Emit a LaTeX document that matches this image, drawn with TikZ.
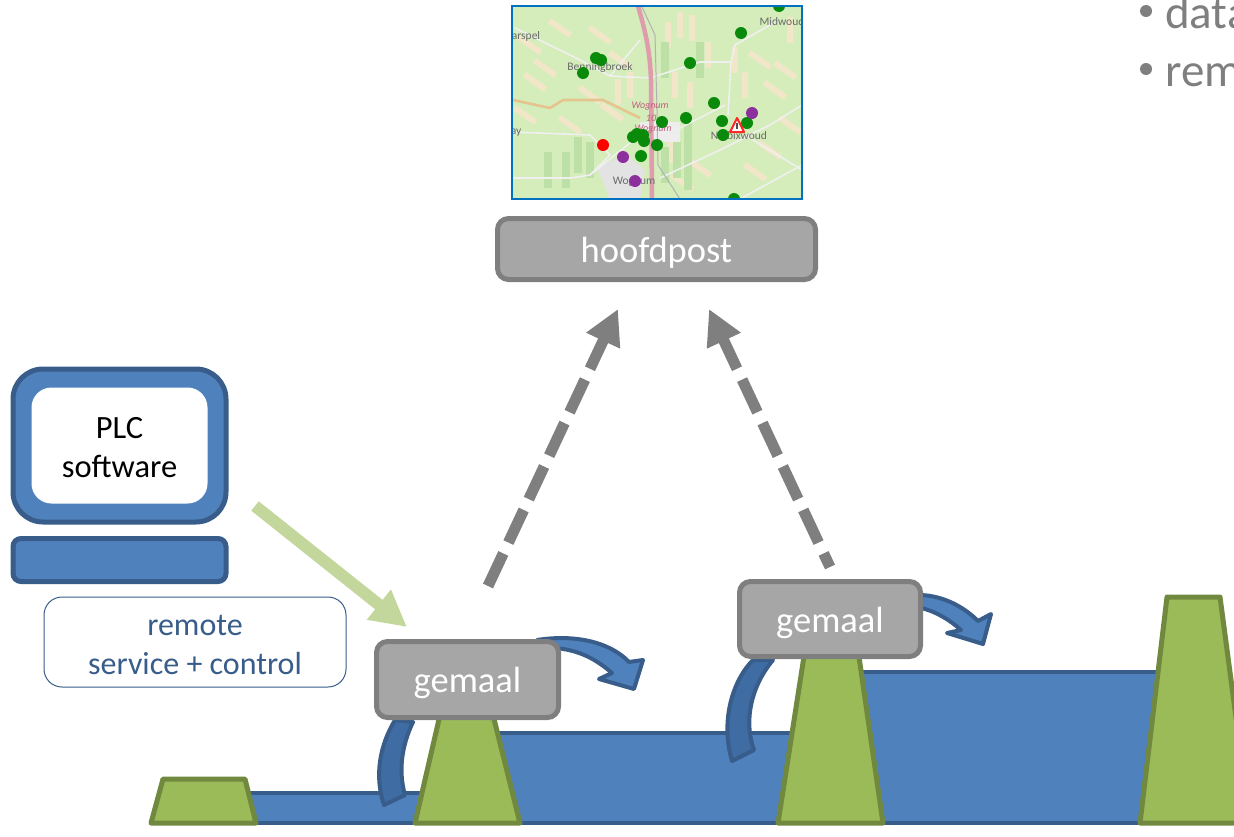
\documentclass[tikz,border=0pt]{standalone}
\usepackage{fontspec}
\setmainfont{Carlito}
\usetikzlibrary{arrows.meta}
\definecolor{wfill}{HTML}{4F81BD}
\definecolor{wline}{HTML}{385D8A}
\definecolor{curvefill}{HTML}{3E6CA3}
\definecolor{dfill}{HTML}{9BBB59}
\definecolor{dline}{HTML}{71893F}
\definecolor{gfill}{HTML}{A6A6A6}
\definecolor{gline}{HTML}{7F7F7F}
\definecolor{servarrow}{HTML}{C3D69B}
\definecolor{mapbg}{HTML}{D4EDBB}
\definecolor{mapfield}{HTML}{F1E6C8}
\definecolor{mapdark}{HTML}{BCE0A6}
\definecolor{mapgreen}{HTML}{0A8A0A}
\definecolor{mappurple}{HTML}{8E2F9E}
\definecolor{maproad}{HTML}{DE9CAC}
\definecolor{maporange}{HTML}{E6C48E}
\definecolor{maptext}{HTML}{6A6A6A}
\definecolor{mapred}{HTML}{C0607A}
\definecolor{mapedge}{HTML}{0070C0}
\tikzset{
  x=1pt,y=-1pt,
  water/.style={fill=wfill,draw=wline,line width=4pt,line join=round},
  dike/.style={fill=dfill,draw=dline,line width=5pt,line join=round},
  stationbox/.style={draw=gline,fill=gfill,line width=5pt,rounded corners=11pt,text=white,font=\fontsize{36.5}{42}\selectfont,inner sep=0pt,text height=26pt,text depth=0pt},
  flow/.style={fill=wfill,draw=wline,line width=4pt,line join=round},
  flowup/.style={fill=curvefill,draw=wline,line width=4pt,line join=round},
  datalink/.style={draw=gline,line width=11pt,dash pattern=on 36pt off 12pt,-{Triangle[length=35pt,width=35pt]}},
  servicelink/.style={draw=servarrow,line width=12pt,-{Triangle[length=36pt,width=36pt]}},
  road/.style={draw=white!88!gray,line width=1.6pt,line join=round},
  town/.style={text=maptext,font=\fontsize{11.5}{13}\selectfont,inner sep=0pt},
  wogn/.style={text=mapred,font=\fontsize{10}{12}\itshape\selectfont,inner sep=0pt},
  pin/.style={circle,minimum size=12pt,inner sep=0pt},
  topic/.style={text=gline,font=\fontsize{47}{52}\selectfont,anchor=base west,inner sep=0pt},
}
\begin{document}
\begin{tikzpicture}
\useasboundingbox (0,0) rectangle (1234,836);
\clip (0,0) rectangle (1234,836);
% map
\begin{scope}
\clip (512,6) rectangle (802,199);
\fill[mapbg] (512,6) rectangle (802,199);
\foreach \x/\y/\a in {530/45/-35,545/68/-35,560/28/-35,590/95/-35,570/125/-35,535/82/-35,612/112/-35,620/60/-35,600/35/-35,525/115/-35,
  680/25/90,692/28/90,668/35/90,708/55/90,675/85/90,690/95/90,630/85/90,618/92/90,745/85/90,
  775/90/-35,785/70/-35,770/150/-35,755/172/-35,700/168/-35,682/182/-35,790/125/-35,760/60/-35,
  670/150/90,735/60/90,790/30/90}{
  \fill[mapfield,rotate around={\a:(\x,\y)}] (\x-13,\y-3) rectangle (\x+13,\y+3);
}
\foreach \x/\y in {665/165,677/160,688/172,590/160,578/155,566/170,548/170,700/60,665/60,688/140}{
  \fill[mapdark] (\x-4,\y-18) rectangle (\x+4,\y+18);
}
\fill[gray!22] (597,168) -- (625,154) -- (645,170) -- (640,199) -- (610,199) -- cycle;
\fill[gray!14] (640,122) rectangle (680,142);
\foreach \p in {
 {(515,28) -- (580,60) -- (610,76) -- (650,78) -- (700,62) -- (731,62) -- (735,45) -- (775,22)},
 {(731,62) -- (728,115)},
 {(512,132) -- (590,135) -- (610,155) -- (590,175) -- (570,178) -- (512,178)},
 {(590,175) -- (640,135) -- (680,128) -- (725,105)},
 {(660,178) -- (720,150) -- (770,125) -- (802,105)},
 {(745,135) -- (802,170)},
 {(740,199) -- (802,165)},
 {(610,76) -- (640,40)}}{
  \draw[road] \p;
}
\draw[gray!60,line width=1pt] (642,7) -- (655,35) -- (657,110) -- (658,165) -- (680,199);
\draw[maproad,line width=4.5pt] (638,6) .. controls (645,30) and (650,50) .. (651,80) -- (652,199);
\draw[maporange,line width=2.6pt,line join=round] (513,100) -- (550,108) -- (563,100) -- (603,100) -- (640,118);
\node[town] (t1) at (526,36) {arspel};
\node[town] (t2) at (600,67) {Benningbroek};
\node[town] (t3) at (782,22) {Midwoud};
\node[town] (t4) at (516,133) {ay};
\node[wogn] (t5) at (650,106) {Wognum};
\node[wogn] (t6) at (651,118) {10};
\node[wogn] (t7) at (653,129) {Wognum};
\node[town] (t8) at (739,136) {Nibbixwoud};
\node[town] (t9) at (634,182) {Wognum};
\foreach \x/\y in {779/6,741/33,596/58,601/60,583/73,690/63,714/103,686/118,722/121,747/123,723/135,662/122,633/137,637/134,643/135,644/141,657/145,641/156,734/199}{
  \node[pin,fill=mapgreen] at (\x,\y) {};
}
\foreach \x/\y in {752/113,623/157,635/181}{
  \node[pin,fill=mappurple] at (\x,\y) {};
}
\node[pin,fill=red] (alarm) at (603,145) {};
\draw[red!80!pink,line width=2pt,fill=white,line join=round] (737,118) -- (730,132) -- (744,132) -- cycle;
\fill[black!70] (736.3,122.5) rectangle (737.7,128.5);
\end{scope}
\draw[draw=mapedge,line width=2pt] (512,6) rectangle (802,199);
% water
\draw[water] (235,793) -- (430,793) -- (430,823) -- (235,823) -- cycle;
\draw[water] (470,733) -- (800,733) -- (800,823) -- (470,823) -- cycle;
\draw[water] (840,672) -- (1180,672) -- (1180,823) -- (840,823) -- cycle;
\draw[water] (1180,823) -- (1240,823);
% flows leaving the pumping stations
\draw[flowup] (395,720) .. controls (380,745) and (374,775) .. (384,805) -- (405,795) .. controls (398,770) and (402,745) .. (413,722) -- cycle;
\draw[flowup] (753,660) .. controls (733,680) and (720,720) .. (732,761) -- (754,750) .. controls (743,720) and (752,685) .. (773,660) -- cycle;
\draw[flow] (537,640) .. controls (575,634) and (610,642) .. (629,662) -- (643,660) -- (634,689) -- (599,679) -- (612,673) .. controls (597,660) and (580,650) .. (555,648) -- cycle;
\draw[flow] (921,595) .. controls (945,596) and (965,608) .. (978,621) -- (991,614) -- (983,644) -- (947,633) -- (961,630) .. controls (950,620) and (935,611) .. (921,608) -- cycle;
% dikes
\draw[dike] (151,823) -- (163,779) -- (245,779) -- (256,823) -- cycle;
\draw[dike] (415,823) -- (440,715) -- (493,715) -- (520,823) -- cycle;
\draw[dike] (778,823) -- (805,650) -- (858,650) -- (883,823) -- cycle;
\draw[dike] (1140,823) -- (1167,597) -- (1220,597) -- (1250,823) -- cycle;
% boxes
\node[stationbox,minimum width=318pt,minimum height=61pt] (hoofd) at (656.5,249) {hoofdpost};
\node[stationbox,minimum width=182pt,minimum height=76pt] (gem1) at (467.5,679.5) {gemaal};
\node[stationbox,minimum width=181pt,minimum height=75pt] (gem2) at (830,619) {gemaal};
% computer
\node[draw=wline,fill=wfill,line width=5pt,rounded corners=30pt,minimum width=213pt,minimum height=153pt] (screen) at (119.5,445.5) {};
\node[fill=white,rounded corners=20pt,minimum width=176pt,minimum height=116pt] (plc) at (119.5,445.5) {};
\node[align=center,font=\fontsize{32.5}{39}\selectfont,inner sep=0pt] (plctext) at (119.5,447.5) {PLC\\software};
\node[draw=wline,fill=wfill,line width=5pt,rounded corners=8pt,minimum width=213pt,minimum height=43pt] (base) at (119.5,560) {};
\node[draw=wline,fill=white,line width=1pt,rounded corners=18pt,minimum width=302pt,minimum height=90pt] (remote) at (195,642) {};
\node[align=center,text=wline,font=\fontsize{32}{39}\selectfont,inner sep=0pt] (remotetext) at (195,645) {remote\\service + control};
% links
\coordinate (serviceA) at (255,506);
\coordinate (serviceB) at (407,627);
\draw[servicelink] (serviceA) -- (serviceB);
\coordinate (dataA) at (488,586);
\coordinate (dataB) at (618,309);
\coordinate (dataC) at (830,567);
\coordinate (dataD) at (709,309);
\draw[datalink] (dataA) -- (dataB);
\draw[datalink,dash phase=21pt] (dataC) -- (dataD);
% list
\fill[gline] (1146,11) circle (6pt);
\fill[gline] (1146,69) circle (6pt);
\node[topic] (l1) at (1165,28) {data};
\node[topic] (l2) at (1165,86) {rem};
\end{tikzpicture}
\end{document}
